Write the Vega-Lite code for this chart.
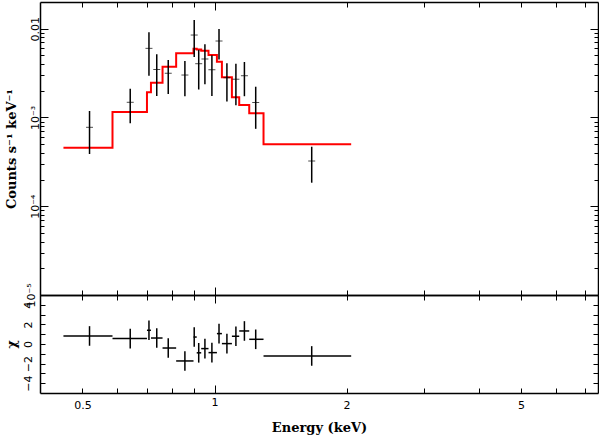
{
  "$schema": "https://vega.github.io/schema/vega-lite/v6.json",
  "background": "white",
  "padding": {"left": 5, "top": 1, "right": 0, "bottom": 2},
  "spacing": 0,
  "bounds": "flush",
  "config": {
    "view": {"stroke": null},
    "axis": {
      "domainColor": "black", "domainWidth": 1.5,
      "tickColor": "black", "tickWidth": 1,
      "labelFont": "DejaVu Sans", "labelFontSize": 11, "labelColor": "black",
      "titleFont": "DejaVu Serif", "titleFontWeight": "bold", "titleFontSize": 13, "titleColor": "black",
      "grid": false, "labelOverlap": false
    }
  },
  "datasets": {
    "pts": [
      {"E": 0.5188, "elo": 0.4524, "ehi": 0.5853, "y": 7.75e-4, "ylo": 3.88e-4, "yhi": 1.183e-3, "chi": 0.82, "clo": -0.18, "chi_hi": 1.82},
      {"E": 0.6424, "elo": 0.5853, "ehi": 0.7014, "y": 1.483e-3, "ylo": 8.59e-4, "yhi": 2.109e-3, "chi": 0.55, "clo": -0.45, "chi_hi": 1.55},
      {"E": 0.7088, "elo": 0.7014, "ehi": 0.7163, "y": 6.01e-3, "ylo": 2.95e-3, "yhi": 9.11e-3, "chi": 1.40, "clo": 0.40, "chi_hi": 2.40},
      {"E": 0.7384, "elo": 0.7163, "ehi": 0.7612, "y": 3.47e-3, "ylo": 1.745e-3, "yhi": 5.16e-3, "chi": 0.61, "clo": -0.39, "chi_hi": 1.61},
      {"E": 0.7843, "elo": 0.7612, "ehi": 0.8176, "y": 3.15e-3, "ylo": 1.838e-3, "yhi": 4.44e-3, "chi": -0.41, "clo": -1.41, "chi_hi": 0.59},
      {"E": 0.8560, "elo": 0.8176, "ehi": 0.8956, "y": 3.008e-3, "ylo": 1.732e-3, "yhi": 4.33e-3, "chi": -1.73, "clo": -2.73, "chi_hi": -0.73},
      {"E": 0.8989, "elo": 0.8956, "ehi": 0.9108, "y": 8.49e-3, "ylo": 4.80e-3, "yhi": 0.01253, "chi": 0.71, "clo": -0.29, "chi_hi": 1.71},
      {"E": 0.9204, "elo": 0.9108, "ehi": 0.9325, "y": 4.035e-3, "ylo": 2.066e-3, "yhi": 5.75e-3, "chi": -0.90, "clo": -1.90, "chi_hi": 0.10},
      {"E": 0.9509, "elo": 0.9325, "ehi": 0.9690, "y": 4.56e-3, "ylo": 2.364e-3, "yhi": 6.69e-3, "chi": -0.47, "clo": -1.47, "chi_hi": 0.53},
      {"E": 0.9864, "elo": 0.9690, "ehi": 1.0127, "y": 3.45e-3, "ylo": 1.745e-3, "yhi": 5.01e-3, "chi": -0.88, "clo": -1.88, "chi_hi": 0.12},
      {"E": 1.0239, "elo": 1.0127, "ehi": 1.0396, "y": 7.27e-3, "ylo": 4.50e-3, "yhi": 9.92e-3, "chi": 1.06, "clo": 0.06, "chi_hi": 2.06},
      {"E": 1.0673, "elo": 1.0396, "ehi": 1.0956, "y": 2.805e-3, "ylo": 1.513e-3, "yhi": 4.08e-3, "chi": 0.04, "clo": -0.96, "chi_hi": 1.04},
      {"E": 1.1189, "elo": 1.0956, "ehi": 1.1385, "y": 2.698e-3, "ylo": 1.371e-3, "yhi": 4.035e-3, "chi": 0.79, "clo": -0.21, "chi_hi": 1.79},
      {"E": 1.1700, "elo": 1.1385, "ehi": 1.2000, "y": 2.954e-3, "ylo": 1.736e-3, "yhi": 4.215e-3, "chi": 1.33, "clo": 0.33, "chi_hi": 2.33},
      {"E": 1.2415, "elo": 1.2000, "ehi": 1.2935, "y": 1.475e-3, "ylo": 7.45e-4, "yhi": 2.221e-3, "chi": 0.48, "clo": -0.52, "chi_hi": 1.48},
      {"E": 1.6659, "elo": 1.2935, "ehi": 2.0495, "y": 3.233e-4, "ylo": 1.841e-4, "yhi": 4.683e-4, "chi": -1.22, "clo": -2.22, "chi_hi": -0.22}
    ],
    "model": [
      {"E": 0.4524, "m": 4.565e-4},
      {"E": 0.5853, "m": 1.152e-3},
      {"E": 0.7014, "m": 1.921e-3},
      {"E": 0.7163, "m": 2.464e-3},
      {"E": 0.7612, "m": 3.73e-3},
      {"E": 0.8176, "m": 5.28e-3},
      {"E": 0.8956, "m": 5.93e-3},
      {"E": 0.9108, "m": 5.83e-3},
      {"E": 0.9325, "m": 5.65e-3},
      {"E": 0.9690, "m": 5.06e-3},
      {"E": 1.0127, "m": 4.25e-3},
      {"E": 1.0396, "m": 2.835e-3},
      {"E": 1.0956, "m": 1.688e-3},
      {"E": 1.1385, "m": 1.382e-3},
      {"E": 1.2000, "m": 1.114e-3},
      {"E": 1.2935, "m": 4.985e-4},
      {"E": 2.0495, "m": 4.985e-4}
    ]
  },
  "vconcat": [
    {
      "width": 558,
      "height": 293,
      "resolve": {"axis": {"x": "independent", "y": "independent"}},
      "layer": [
        {
          "data": {"name": "model"},
          "mark": {"type": "line", "interpolate": "step-after", "color": "#ff0000", "strokeWidth": 2},
          "encoding": {
            "x": {"field": "E", "type": "quantitative",
              "scale": {"type": "log", "domain": [0.4, 7.49], "nice": false},
              "axis": {"orient": "top", "title": null, "labels": false,
                "values": [0.5, 0.6, 0.7, 0.8, 0.9, 1, 2, 3, 4, 5, 6, 7],
                "tickSize": {"condition": {"test": "datum.value == 1", "value": -8}, "value": -5}}},
            "y": {"field": "m", "type": "quantitative",
              "scale": {"type": "log", "domain": [0.00001, 0.02], "nice": false},
              "axis": {"orient": "right", "title": null, "labels": false,
                "values": [0.00002, 0.00003, 0.00004, 0.00005, 0.00006, 0.00007, 0.00008, 0.00009, 0.0001, 0.0002, 0.0003, 0.0004, 0.0005, 0.0006, 0.0007, 0.0008, 0.0009, 0.001, 0.002, 0.003, 0.004, 0.005, 0.006, 0.007, 0.008, 0.009, 0.01],
                "tickSize": {"condition": {"test": "datum.value == 0.01 || datum.value == 0.001 || datum.value == 0.0001", "value": -8}, "value": -4}}}
          }
        },
        {
          "data": {"name": "pts"},
          "mark": {"type": "rule", "color": "black", "strokeWidth": 1.5},
          "encoding": {
            "x": {"field": "E", "type": "quantitative",
              "scale": {"type": "log", "domain": [0.4, 7.49], "nice": false},
              "axis": {"orient": "bottom", "title": null, "labels": false,
                "values": [0.5, 0.6, 0.7, 0.8, 0.9, 1, 2, 3, 4, 5, 6, 7],
                "tickSize": {"condition": {"test": "datum.value == 1", "value": -8}, "value": -5}}},
            "y": {"field": "ylo", "type": "quantitative",
              "scale": {"type": "log", "domain": [0.00001, 0.02], "nice": false},
              "axis": {"orient": "left", "title": "Counts s⁻¹ keV⁻¹",
                "values": [0.00001, 0.00002, 0.00003, 0.00004, 0.00005, 0.00006, 0.00007, 0.00008, 0.00009, 0.0001, 0.0002, 0.0003, 0.0004, 0.0005, 0.0006, 0.0007, 0.0008, 0.0009, 0.001, 0.002, 0.003, 0.004, 0.005, 0.006, 0.007, 0.008, 0.009, 0.01],
                "labelExpr": "datum.value == 0.01 ? '0.01' : datum.value == 0.001 ? '10⁻³' : datum.value == 0.0001 ? '10⁻⁴' : datum.value == 0.00001 ? '10⁻⁵' : ''",
                "labelAngle": -90, "labelAlign": "center", "labelBaseline": "bottom",
                "labelPadding": 8, "labelFlush": true,
                "titleX": -25, "titleBaseline": "alphabetic", "titleAngle": -90,
                "tickSize": {"condition": {"test": "datum.value == 0.01 || datum.value == 0.001 || datum.value == 0.0001", "value": -8}, "value": -4}}},
            "y2": {"field": "yhi"}
          }
        },
        {
          "data": {"name": "pts"},
          "mark": {"type": "tick", "orient": "horizontal", "color": "black", "size": 7, "thickness": 1},
          "encoding": {
            "x": {"field": "E", "type": "quantitative", "axis": null},
            "y": {"field": "y", "type": "quantitative", "axis": null}
          }
        }
      ]
    },
    {
      "width": 558,
      "height": 98,
      "resolve": {"axis": {"x": "independent", "y": "independent"}},
      "layer": [
        {
          "mark": {"type": "rule", "color": "#999999", "strokeWidth": 1.5, "strokeDash": [8, 5]},
          "encoding": {
            "y": {"datum": 0, "type": "quantitative", "scale": {"domain": [-5, 5], "nice": false}, "axis": null}
          }
        },
        {
          "data": {"name": "pts"},
          "mark": {"type": "rule", "color": "black", "strokeWidth": 1.5},
          "encoding": {
            "x": {"field": "elo", "type": "quantitative",
              "scale": {"type": "log", "domain": [0.4, 7.49], "nice": false},
              "axis": {"orient": "bottom", "title": "Energy (keV)",
                "values": [0.5, 0.6, 0.7, 0.8, 0.9, 1, 2, 3, 4, 5, 6, 7],
                "labelExpr": "datum.value == 0.5 ? '0.5' : datum.value == 1 ? '1' : datum.value == 2 ? '2' : datum.value == 5 ? '5' : ''",
                "labelPadding": 11, "labelFlush": false, "titlePadding": 11,
                "tickSize": {"condition": {"test": "datum.value == 1", "value": -8}, "value": -5}}},
            "x2": {"field": "ehi"},
            "y": {"field": "chi", "type": "quantitative",
              "scale": {"domain": [-5, 5], "nice": false},
              "axis": {"orient": "left", "title": "χ",
                "values": [-4, -3, -2, -1, 0, 1, 2, 3, 4],
                "labelExpr": "datum.value % 2 == 0 ? format(datum.value, 'd') : ''",
                "labelAngle": -90, "labelAlign": "center", "labelBaseline": "bottom",
                "labelPadding": 12, "labelFlush": false,
                "titleX": -25, "titleBaseline": "alphabetic", "titleAngle": -90,
                "tickSize": -5}}
          }
        },
        {
          "data": {"name": "pts"},
          "mark": {"type": "rule", "color": "black", "strokeWidth": 1.5},
          "encoding": {
            "x": {"field": "E", "type": "quantitative",
              "scale": {"type": "log", "domain": [0.4, 7.49], "nice": false},
              "axis": {"orient": "top", "title": null, "labels": false,
                "values": [0.5, 0.6, 0.7, 0.8, 0.9, 1, 2, 3, 4, 5, 6, 7],
                "tickSize": {"condition": {"test": "datum.value == 1", "value": -8}, "value": -5}}},
            "y": {"field": "clo", "type": "quantitative",
              "scale": {"domain": [-5, 5], "nice": false},
              "axis": {"orient": "right", "title": null, "labels": false,
                "values": [-4, -3, -2, -1, 0, 1, 2, 3, 4], "tickSize": -5}},
            "y2": {"field": "chi_hi"}
          }
        }
      ]
    }
  ]
}
